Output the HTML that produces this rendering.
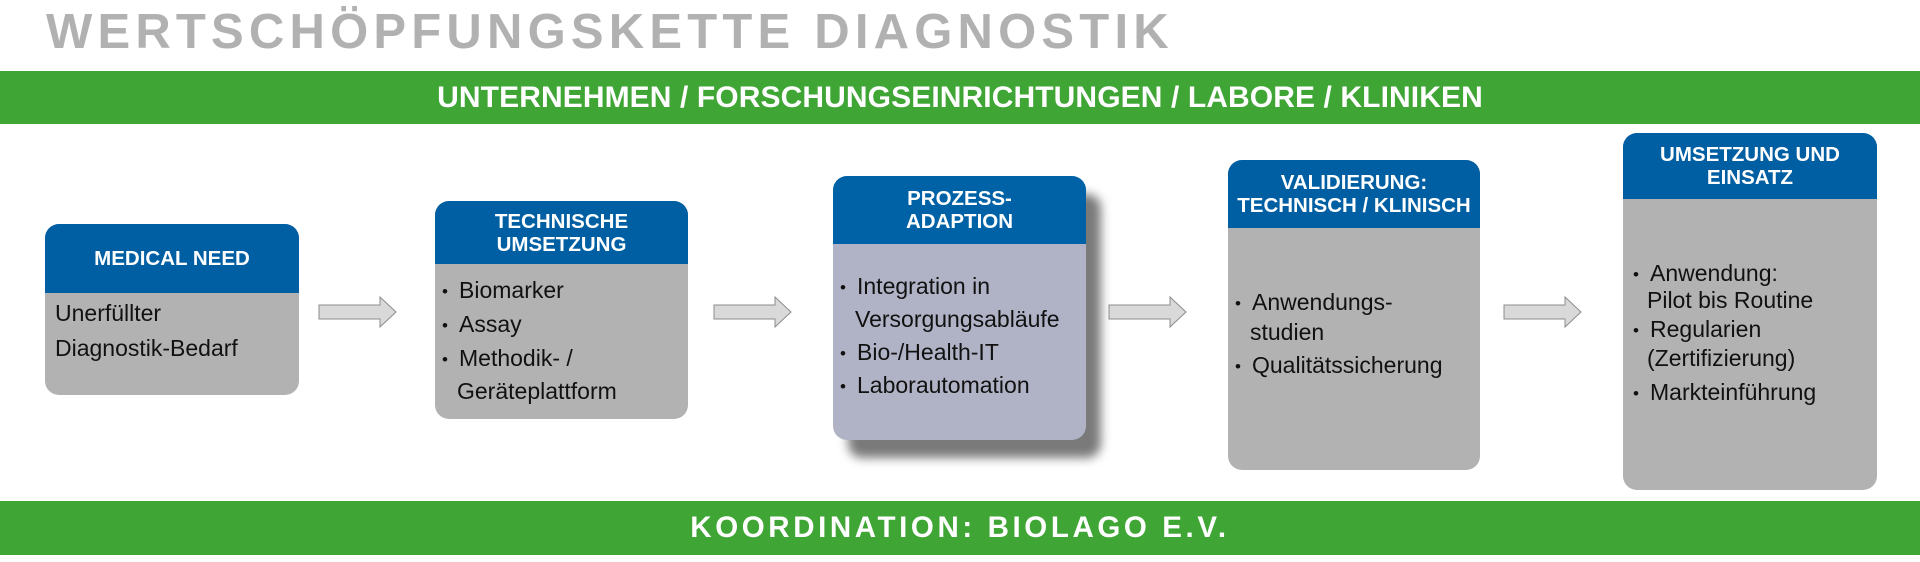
<!DOCTYPE html>
<html><head><meta charset="utf-8"><style>
*{margin:0;padding:0;box-sizing:border-box}
body{width:1920px;height:562px;background:#fff;position:relative;overflow:hidden;font-family:"Liberation Sans",Arial,sans-serif}
.title{position:absolute;left:46px;top:4px;font-size:49px;font-weight:bold;color:#b1b1b1;letter-spacing:5.2px;white-space:nowrap}
.band{position:absolute;left:0;width:1920px;background:#3fa535;color:#fff;font-weight:bold;text-align:center;white-space:nowrap}
.box{position:absolute;background:#b2b2b2;border-radius:14px;overflow:hidden}
.hd{position:absolute;left:0;top:0;width:100%;background:#005ea3;color:#fff;font-weight:bold;font-size:20.5px;line-height:23px;text-align:center;display:flex;align-items:center;justify-content:center}
.ln{position:absolute;font-size:23px;color:#111;white-space:nowrap;line-height:26px}
.ln b{font-weight:normal;font-size:17px;display:inline-block;width:17px;vertical-align:1px}
.arr{position:absolute}
</style></head><body>
<div class="title">WERTSCHÖPFUNGSKETTE DIAGNOSTIK</div>
<div class="band" style="top:71px;height:53px;line-height:53px;font-size:30px;letter-spacing:0.1px">UNTERNEHMEN / FORSCHUNGSEINRICHTUNGEN / LABORE / KLINIKEN</div>
<div class="band" style="top:501px;height:54px;line-height:54px;font-size:29.5px;letter-spacing:3.6px">KOORDINATION: BIOLAGO E.V.</div>

<div class="box" style="left:45px;top:224px;width:254px;height:171px">
<div class="hd" style="height:69px">MEDICAL NEED</div>
<div class="ln" style="left:10px;top:76px">Unerfüllter</div>
<div class="ln" style="left:10px;top:111px">Diagnostik-Bedarf</div>
</div>

<div class="box" style="left:435px;top:201px;width:253px;height:218px">
<div class="hd" style="height:63px">TECHNISCHE<br>UMSETZUNG</div>
<div class="ln" style="left:7px;top:76px"><b>•</b>Biomarker</div>
<div class="ln" style="left:7px;top:110px"><b>•</b>Assay</div>
<div class="ln" style="left:7px;top:144px"><b>•</b>Methodik- /</div>
<div class="ln" style="left:22px;top:177px">Geräteplattform</div>
</div>

<div style="position:absolute;left:848px;top:194px;width:253px;height:264px;border-radius:14px;background:#7a7a7a;filter:blur(5px)"></div>
<div class="box" style="left:833px;top:176px;width:253px;height:264px;background:#b0b3c6">
<div class="hd" style="height:68px;background:#0062a6">PROZESS-<br>ADAPTION</div>
<div class="ln" style="left:7px;top:97px"><b>•</b>Integration in</div>
<div class="ln" style="left:22px;top:130px">Versorgungsabläufe</div>
<div class="ln" style="left:7px;top:163px"><b>•</b>Bio-/Health-IT</div>
<div class="ln" style="left:7px;top:196px"><b>•</b>Laborautomation</div>
</div>

<div class="box" style="left:1228px;top:160px;width:252px;height:310px">
<div class="hd" style="height:68px">VALIDIERUNG:<br>TECHNISCH / KLINISCH</div>
<div class="ln" style="left:7px;top:129px"><b>•</b>Anwendungs-</div>
<div class="ln" style="left:22px;top:159px">studien</div>
<div class="ln" style="left:7px;top:192px"><b>•</b>Qualitätssicherung</div>
</div>

<div class="box" style="left:1623px;top:133px;width:254px;height:357px">
<div class="hd" style="height:66px">UMSETZUNG UND<br>EINSATZ</div>
<div class="ln" style="left:10px;top:127px"><b>•</b>Anwendung:</div>
<div class="ln" style="left:24px;top:154px">Pilot bis Routine</div>
<div class="ln" style="left:10px;top:183px"><b>•</b>Regularien</div>
<div class="ln" style="left:24px;top:212px">(Zertifizierung)</div>
<div class="ln" style="left:10px;top:246px"><b>•</b>Markteinführung</div>
</div>

<svg class="arr" style="left:318px;top:296px" width="80" height="32"><polygon points="1,9 62,9 62,1 78,16 62,31 62,23 1,23" fill="#d9d9d9" stroke="#8c8c8c" stroke-width="1"/></svg>
<svg class="arr" style="left:713px;top:296px" width="80" height="32"><polygon points="1,9 62,9 62,1 78,16 62,31 62,23 1,23" fill="#d9d9d9" stroke="#8c8c8c" stroke-width="1"/></svg>
<svg class="arr" style="left:1108px;top:296px" width="80" height="32"><polygon points="1,9 62,9 62,1 78,16 62,31 62,23 1,23" fill="#d9d9d9" stroke="#8c8c8c" stroke-width="1"/></svg>
<svg class="arr" style="left:1503px;top:296px" width="80" height="32"><polygon points="1,9 62,9 62,1 78,16 62,31 62,23 1,23" fill="#d9d9d9" stroke="#8c8c8c" stroke-width="1"/></svg>
</body></html>
